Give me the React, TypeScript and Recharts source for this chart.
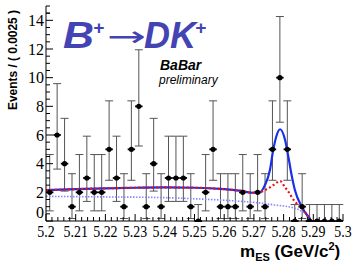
import { ComposedChart, XAxis, YAxis, Line, Scatter, ErrorBar } from 'recharts'

// 40 bins of 0.0025 GeV/c^2 between 5.20 and 5.30
const binCenters = [
    5.20125, 5.20375, 5.20625, 5.20875, 5.21125, 5.21375, 5.21625, 5.21875,
    5.22125, 5.22375, 5.22625, 5.22875, 5.23125, 5.23375, 5.23625, 5.23875,
    5.24125, 5.24375, 5.24625, 5.24875, 5.25125, 5.25375, 5.25625, 5.25875,
    5.26125, 5.26375, 5.26625, 5.26875, 5.27125, 5.27375, 5.27625, 5.27875,
    5.28125, 5.28375, 5.28625, 5.28875, 5.29125, 5.29375, 5.29625, 5.29875,
]
const counts = [
    2, 6, 4, 1, 2, 3, 2, 2, 5, 3, 1, 5, 8, 1, 4, 1, 3, 3, 3, 1,
    0, 2, 5, 1, 1, 1, 2, 1, 2, 1, 5, 10, 5, 0, 1, 0, 0, 0, 0, 0,
]
// asymmetric poisson errors, indexed by count
const poissonLow = [0, 0.827, 1.292, 1.633, 1.914, 2.159, 2.379, 2.58, 2.768, 2.94, 3.108]
const poissonHigh = [1.148, 2.299, 2.637, 2.918, 3.162, 3.382, 3.583, 3.77, 3.945, 4.11, 4.266]

// full fit (signal + background)
const totalX = [5.2, 5.21, 5.22, 5.23, 5.24, 5.25, 5.26, 5.265, 5.27, 5.272, 5.2737, 5.2754, 5.2765, 5.2777, 5.2788, 5.2805, 5.2816, 5.2827, 5.2838, 5.2861, 5.2883, 5.2895, 5.3]
const totalY = [2.15, 2.22, 2.28, 2.32, 2.34, 2.32, 2.22, 2.12, 1.97, 2.0, 2.5, 3.56, 4.95, 6.0, 6.4, 5.65, 4.49, 3.2, 2.16, 1.0, 0.3, 0, 0]
// total background (continuum + peaking BB)
const bkgX = [5.2, 5.21, 5.22, 5.23, 5.24, 5.25, 5.26, 5.265, 5.27, 5.272, 5.2737, 5.2754, 5.2765, 5.2777, 5.2788, 5.2805, 5.2816, 5.2838, 5.2861, 5.2883, 5.2895, 5.3]
const bkgY = [2.15, 2.22, 2.28, 2.32, 2.34, 2.32, 2.22, 2.12, 1.97, 2.0, 2.16, 2.35, 2.5, 2.68, 2.79, 2.35, 2.05, 1.35, 0.95, 0.3, 0, 0]
// continuum only
const contX = [5.2, 5.22, 5.24, 5.25, 5.26, 5.265, 5.27, 5.277, 5.284, 5.287, 5.2888, 5.2895, 5.3]
const contY = [1.72, 1.68, 1.63, 1.55, 1.45, 1.38, 1.3, 1.12, 0.88, 0.55, 0.25, 0, 0]

const xMajor = [5.2, 5.21, 5.22, 5.23, 5.24, 5.25, 5.26, 5.27, 5.28, 5.29, 5.3]
const xMajorLabels = ['5.2', '5.21', '5.22', '5.23', '5.24', '5.25', '5.26', '5.27', '5.28', '5.29', '5.3']
const yMajor = [0, 2, 4, 6, 8, 10, 12, 14]
const yMajorLabels = ['0', '2', '4', '6', '8', '10', '12', '14']

const points = binCenters.map((x, i) => ({
    x,
    y: counts[i],
    ey: [poissonLow[counts[i]], poissonHigh[counts[i]]],
    ex: 0.00125,
}))
const totalData = totalX.map((x, i) => ({ x, y: totalY[i] }))
const bkgData = bkgX.map((x, i) => ({ x, y: bkgY[i] }))
const contData = contX.map((x, i) => ({ x, y: contY[i] }))

// minor ticks: 5 per major division on x, 4 on y
const xTicks: number[] = []
xMajor.forEach((m, i) => {
    if (i < xMajor.length - 1) {
        const step = (xMajor[i + 1] - m) / 5
        for (let k = 0; k < 5; k++) xTicks.push(m + k * step)
    } else xTicks.push(m)
})
const yTicks: number[] = []
yMajor.forEach((m) => {
    for (let k = 0; k < 4; k++) yTicks.push(m + k * 0.5)
})
yTicks.push(14.5)

const majorIndex = (v: number, majors: number[]) =>
    majors.findIndex((m) => Math.abs(m - v) < 1e-6)

const SERIF = '"Liberation Serif", "Times New Roman", serif'
const SANS = '"Liberation Sans", Arial, sans-serif'

function BottomTick(props: any) {
    const { x, y, payload } = props
    const idx = majorIndex(payload.value, xMajor)
    const label = idx >= 0 ? xMajorLabels[idx] : ''
    return (
        <g>
            <line x1={x} x2={x} y1={y} y2={y - (idx >= 0 ? 7 : 4)} stroke="#000" />
            {idx >= 0 && (
                <text
                    x={x}
                    y={y + 15.5}
                    textAnchor="middle"
                    fontFamily={SERIF}
                    fontSize={16}
                    textLength={(label.length * 8 - 4) * 0.87}
                    lengthAdjust="spacingAndGlyphs"
                    fill="#000"
                >
                    {label}
                </text>
            )}
        </g>
    )
}

function TopTick(props: any) {
    const { x, y, payload } = props
    const idx = majorIndex(payload.value, xMajor)
    return <line x1={x} x2={x} y1={y} y2={y + (idx >= 0 ? 7 : 4)} stroke="#000" />
}

function LeftTick(props: any) {
    const { x, y, payload } = props
    const idx = majorIndex(payload.value, yMajor)
    return (
        <g>
            <line x1={x} x2={x + (idx >= 0 ? 7 : 4)} y1={y} y2={y} stroke="#000" />
            {idx >= 0 && (
                <text
                    x={x - 2}
                    y={idx === 0 ? y - 3 : y + 5.5}
                    textAnchor="end"
                    fontFamily={SERIF}
                    fontSize={16}
                    fill="#000"
                >
                    {yMajorLabels[idx]}
                </text>
            )}
        </g>
    )
}

function RightTick(props: any) {
    const { x, y, payload } = props
    const idx = majorIndex(payload.value, yMajor)
    return <line x1={x} x2={x - (idx >= 0 ? 7 : 4)} y1={y} y2={y} stroke="#000" />
}

const TITLE_BLUE = '#4343b3'

export default function App() {
    return (
        <div style={{ position: 'absolute', left: 0, top: 0, width: 357, height: 273, background: '#fff' }}>
            <ComposedChart
                width={357}
                height={273}
                margin={{ top: 6, right: 14, bottom: 32, left: 6 }}
            >
                <XAxis
                    dataKey="x"
                    type="number"
                    domain={[5.2, 5.3]}
                    allowDataOverflow
                    ticks={xTicks}
                    interval={0}
                    tickSize={0}
                    tickMargin={0}
                    tick={BottomTick}
                    height={20}
                    axisLine={{ stroke: '#000' }}
                />
                <XAxis
                    xAxisId="top"
                    orientation="top"
                    dataKey="x"
                    type="number"
                    domain={[5.2, 5.3]}
                    allowDataOverflow
                    ticks={xTicks}
                    interval={0}
                    tickSize={0}
                    tickMargin={0}
                    tick={TopTick}
                    height={0}
                    axisLine={{ stroke: '#000' }}
                />
                <YAxis
                    dataKey="y"
                    type="number"
                    domain={[0, 15]}
                    allowDataOverflow
                    ticks={yTicks}
                    interval={0}
                    tickSize={0}
                    tickMargin={0}
                    tick={LeftTick}
                    width={40}
                    axisLine={{ stroke: '#000' }}
                />
                <YAxis
                    yAxisId="r"
                    orientation="right"
                    dataKey="y"
                    type="number"
                    domain={[0, 15]}
                    allowDataOverflow
                    ticks={yTicks}
                    interval={0}
                    tickSize={0}
                    tickMargin={0}
                    tick={RightTick}
                    width={0}
                    axisLine={{ stroke: '#000' }}
                />
                <Scatter
                    data={points}
                    isAnimationActive={false}
                    shape={(p: any) => <circle cx={p.cx} cy={p.cy} r={2.6} fill="#000" />}
                >
                    <ErrorBar dataKey="ey" direction="y" width={4} stroke="#555" strokeWidth={1} />
                    <ErrorBar dataKey="ex" direction="x" width={0} stroke="#000" strokeWidth={1.8} />
                </Scatter>
                <Line
                    data={contData}
                    xAxisId="top"
                    yAxisId="r"
                    dataKey="y"
                    type="monotone"
                    dot={false}
                    stroke="#8585ff"
                    strokeWidth={1.6}
                    strokeDasharray="1.5 1.5"
                    isAnimationActive={false}
                />
                <Line
                    data={totalData}
                    dataKey="y"
                    type="monotone"
                    dot={false}
                    stroke="#1a2ee8"
                    strokeWidth={2.2}
                    isAnimationActive={false}
                />
                <Line
                    data={bkgData}
                    dataKey="y"
                    type="monotone"
                    dot={false}
                    stroke="#ee1111"
                    strokeWidth={2.2}
                    strokeDasharray="2 2.4"
                    isAnimationActive={false}
                />
            </ComposedChart>
            <svg
                width={357}
                height={273}
                style={{ position: 'absolute', left: 0, top: 0, pointerEvents: 'none' }}
            >
                <text
                    transform="translate(16.5 60) rotate(-90)"
                    textAnchor="middle"
                    fontFamily={SANS}
                    fontWeight="bold"
                    fontSize={13}
                    textLength={100}
                    lengthAdjust="spacingAndGlyphs"
                    fill="#000"
                >
                    Events / ( 0.0025 )
                </text>
                <text x={240} y={257} fontFamily={SANS} fontWeight="bold" fontSize={17} fill="#000">
                    m
                    <tspan fontSize={11} dy={4}>ES</tspan>
                    <tspan dy={-4}> (GeV/c</tspan>
                    <tspan fontSize={11} dy={-7}>2</tspan>
                    <tspan dy={7}>)</tspan>
                </text>
                <g fontFamily={SANS} fontWeight="bold" fontStyle="italic" fill={TITLE_BLUE}>
                    <text x={63} y={48} fontSize={36} textLength={31} lengthAdjust="spacingAndGlyphs">B</text>
                    <text x={93} y={34} fontSize={19}>+</text>
                    <text
                        x={107}
                        y={46}
                        fontSize={28}
                        fontWeight="normal"
                        fontStyle="normal"
                        fontFamily='"DejaVu Sans", sans-serif'
                        textLength={39}
                        lengthAdjust="spacingAndGlyphs"
                    >
                        →
                    </text>
                    <text x={144} y={48} fontSize={36}>DK</text>
                    <text x={195} y={34} fontSize={19}>+</text>
                </g>
                <text x={160} y={70} fontFamily={SANS} fontWeight="bold" fontStyle="italic" fontSize={14} fill="#000">
                    BaBar
                </text>
                <text x={159} y={84} fontFamily={SANS} fontStyle="italic" fontSize={12} fill="#000">
                    preliminary
                </text>
            </svg>
        </div>
    )
}
